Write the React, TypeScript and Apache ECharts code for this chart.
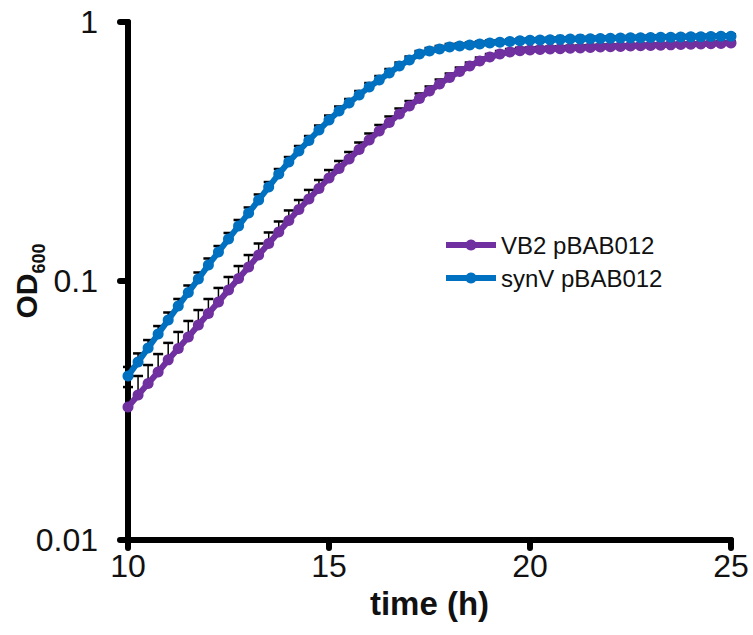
import React, { useEffect, useRef } from "react";
import * as echarts from "echarts";

const times = [
  10, 10.25, 10.5, 10.75, 11, 11.25, 11.5, 11.75, 12, 12.25, 12.5, 12.75, 13, 13.25, 13.5, 13.75,
  14, 14.25, 14.5, 14.75, 15, 15.25, 15.5, 15.75, 16, 16.25, 16.5, 16.75, 17, 17.25, 17.5, 17.75,
  18, 18.25, 18.5, 18.75, 19, 19.25, 19.5, 19.75, 20, 20.25, 20.5, 20.75, 21, 21.25, 21.5, 21.75,
  22, 22.25, 22.5, 22.75, 23, 23.25, 23.5, 23.75, 24, 24.25, 24.5, 24.75, 25,
];

const vb2 = [
  0.0326, 0.0363, 0.0402, 0.0445, 0.0496, 0.0549, 0.0608, 0.0676, 0.0749, 0.083, 0.0923, 0.1022,
  0.1132, 0.126, 0.1396, 0.1546, 0.1713, 0.1888, 0.2074, 0.2276, 0.2498, 0.2719, 0.2958, 0.3219,
  0.3503, 0.3795, 0.4093, 0.4414, 0.4738, 0.5066, 0.5416, 0.5762, 0.6105, 0.6438, 0.6762, 0.7068,
  0.7325, 0.7522, 0.7658, 0.7741, 0.7796, 0.7831, 0.7859, 0.7887, 0.7915, 0.7943, 0.7972, 0.8,
  0.8029, 0.8051, 0.8072, 0.8094, 0.8116, 0.8138, 0.816, 0.8181, 0.8203, 0.8224, 0.8246, 0.8268,
  0.829,
];

const vb2Err = [
  0.00635, 0.00668, 0.00718, 0.00773, 0.00808, 0.00867, 0.00929, 0.00965, 0.01031, 0.01101,
  0.01133, 0.01203, 0.01276, 0.01358, 0.01435, 0.01515, 0.01595, 0.01665, 0.0173, 0.01789,
  0.01841, 0.01876, 0.01899, 0.02067, 0.02084, 0.0208, 0.02243, 0.02211, 0.02151, 0.023, 0.0221,
  0.02351, 0.0221, 0.02331, 0.02137, 0.02233, 0.01978, 0.0203, 0.0207, 0.0209, 0.0175, 0.0176,
  0.0177, 0.0177, 0.0178, 0.0179, 0.0179, 0.018, 0.0181, 0.0144, 0.0144, 0.0145, 0.0145, 0.0146,
  0.0146, 0.0146, 0.0147, 0.0147, 0.0148, 0.0148, 0.0148,
];

const synV = [
  0.043, 0.0487, 0.0551, 0.0624, 0.0707, 0.0801, 0.0903, 0.1018, 0.1153, 0.1294, 0.1453, 0.1631,
  0.1831, 0.2055, 0.2306, 0.2589, 0.288, 0.3177, 0.3487, 0.3828, 0.4183, 0.4533, 0.4867, 0.5226,
  0.561, 0.5971, 0.6354, 0.6762, 0.7131, 0.7522, 0.7727, 0.7867, 0.8007, 0.8079, 0.8151, 0.8224,
  0.8296, 0.8356, 0.8409, 0.8461, 0.8506, 0.8522, 0.8545, 0.8568, 0.8591, 0.8606, 0.8621, 0.8637,
  0.8653, 0.8668, 0.8684, 0.87, 0.8715, 0.8731, 0.8739, 0.8754, 0.8762, 0.8778, 0.8786, 0.8802,
  0.881,
];

const synVErr = [
  0.00358, 0.00383, 0.00406, 0.0046, 0.00488, 0.00514, 0.0058, 0.00606, 0.00686, 0.00709, 0.00796,
  0.00894, 0.00917, 0.0103, 0.01047, 0.01175, 0.01308, 0.01442, 0.01423, 0.01562, 0.01707,
  0.01849, 0.01762, 0.01892, 0.02031, 0.02162, 0.023, 0.02137, 0.02253, 0.02031, 0.02086, 0.02124,
  0.02162, 0.01818, 0.01834, 0.0185, 0.01867, 0.015, 0.0151, 0.0151, 0.0152, 0.0153, 0.0153,
  0.0153, 0.0154, 0.0154, 0.0154, 0.0155, 0.0155, 0.0155, 0.0155, 0.0156, 0.0156, 0.0156, 0.0156,
  0.0157, 0.0157, 0.0157, 0.0157, 0.0158, 0.0158,
];

const seriesNames = ["VB2 pBAB012", "synV pBAB012"];
const seriesColors = ["#7030A0", "#0070C0"];
const xTicks = { min: 10, max: 25, interval: 5 };
const yRange = { min: 0.01, max: 1 };

const FONT = "'Liberation Sans', Arial, sans-serif";
const TEXT = "#111";

function errorSeries(vals: number[], errs: number[]) {
  return {
    type: "custom",
    z: 1,
    silent: true,
    data: times.map((t, i) => [t, vals[i], vals[i] + errs[i]]),
    encode: { x: 0, y: [1, 2] },
    renderItem: (_params: any, api: any) => {
      const x = api.value(0);
      const p0 = api.coord([x, api.value(1)]);
      const p1 = api.coord([x, api.value(2)]);
      return {
        type: "group",
        children: [
          {
            type: "line",
            shape: { x1: p0[0], y1: p0[1], x2: p1[0], y2: p1[1] },
            style: { stroke: "#000", lineWidth: 1.5 },
          },
          {
            type: "line",
            shape: { x1: p1[0] - 5, y1: p1[1], x2: p1[0] + 5, y2: p1[1] },
            style: { stroke: "#000", lineWidth: 2.5 },
          },
        ],
      };
    },
  };
}

function lineSeries(name: string, vals: number[], color: string) {
  return {
    name,
    type: "line",
    z: 3,
    data: times.map((t, i) => [t, vals[i]]),
    symbol: "circle",
    symbolSize: 11,
    showSymbol: true,
    color,
    lineStyle: { width: 6, color },
    itemStyle: { color },
  };
}

export default function App() {
  const ref = useRef<HTMLDivElement>(null);
  useEffect(() => {
    if (!ref.current) return;
    const chart = echarts.init(ref.current, null, { renderer: "svg" });
    const axisLine = { show: true, lineStyle: { color: "#000", width: 6, cap: "round" } };
    const axisTick = { show: true, inside: false, length: 8, lineStyle: { color: "#000", width: 6, cap: "round" } };
    chart.setOption({
      animation: false,
      backgroundColor: "#fff",
      grid: { left: 128, right: 22, top: 22, bottom: 95, containLabel: false, outerBoundsMode: "none" },
      legend: {
        data: seriesNames,
        orient: "vertical",
        left: 438,
        top: 228,
        itemWidth: 50,
        itemHeight: 14,
        itemGap: 9,
        lineStyle: { width: 6 },
        textStyle: { fontSize: 24, color: TEXT, fontFamily: FONT },
      },
      graphic: [
        {
          type: "text",
          x: 26,
          y: 281,
          rotation: Math.PI / 2,
          style: {
            text: "{a|OD}{b|600}",
            align: "center",
            verticalAlign: "middle",
            fill: TEXT,
            rich: {
              a: { fontSize: 30, fontWeight: "bold", fill: TEXT, fontFamily: FONT },
              b: { fontSize: 18, fontWeight: "bold", fill: TEXT, fontFamily: FONT, verticalAlign: "bottom", padding: [0, 0, -7, 0] },
            },
          },
        },
      ],
      xAxis: {
        type: "value",
        min: xTicks.min,
        max: xTicks.max,
        interval: xTicks.interval,
        name: "time (h)",
        nameLocation: "middle",
        nameGap: 42,
        nameTextStyle: { fontSize: 33, fontWeight: "bold", color: TEXT, fontFamily: FONT },
        axisLine,
        axisTick,
        splitLine: { show: false },
        axisLabel: { fontSize: 32, color: TEXT, fontFamily: FONT, margin: 10 },
      },
      yAxis: {
        type: "log",
        logBase: 10,
        min: yRange.min,
        max: yRange.max,
        axisLine,
        axisTick,
        minorTick: { show: false },
        splitLine: { show: false },
        axisLabel: {
          fontSize: 32,
          color: TEXT,
          fontFamily: FONT,
          margin: 30,
          formatter: (v: number) => String(+v.toPrecision(3)),
        },
      },
      series: [
        errorSeries(vb2, vb2Err),
        errorSeries(synV, synVErr),
        lineSeries(seriesNames[0], vb2, seriesColors[0]),
        lineSeries(seriesNames[1], synV, seriesColors[1]),
      ],
    });
    return () => chart.dispose();
  }, []);
  return (
    <div
      ref={ref}
      style={{ position: "absolute", left: 0, top: 0, width: 753, height: 635, background: "#fff" }}
    />
  );
}
